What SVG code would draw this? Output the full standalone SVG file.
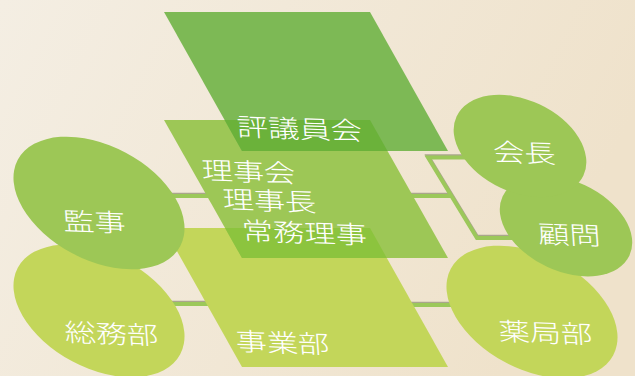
<svg xmlns="http://www.w3.org/2000/svg" width="635" height="376" viewBox="0 0 635 376">
  <defs>
    <linearGradient id="bg" x1="0" y1="0" x2="1" y2="0.3">
      <stop offset="0" stop-color="#f4eee3"/>
      <stop offset="1" stop-color="#efe2cb"/>
    </linearGradient>
    <clipPath id="clipMid"><polygon points="164,120 370,120 448,258 242,258"/></clipPath>
    <clipPath id="clipBot"><polygon points="164,228 370,228 448,367 242,367"/></clipPath>
    <clipPath id="clipSomu"><ellipse cx="0" cy="0" rx="92" ry="57" transform="translate(99,311) rotate(28)"/></clipPath>
    <clipPath id="clipKomon"><ellipse cx="0" cy="0" rx="70" ry="45" transform="translate(566,226) rotate(25)"/></clipPath>
    <clipPath id="clipYakkyoku"><ellipse cx="0" cy="0" rx="92" ry="57" transform="translate(532,312) rotate(28)"/></clipPath>
    <style>
      .lbl { font-family: "Noto Sans CJK JP", "Noto Sans CJK SC", sans-serif; font-size: 25px; font-weight: 300; fill: #ffffff; text-anchor: middle; }
      .conn { fill: none; stroke: #9cc85a; stroke-width: 4; }
      .shadow { fill: none; stroke: #aaa68c; stroke-width: 4; }
      .g1 { fill: #7db955; }
      .g2 { fill: #9dc756; }
      .g3 { fill: #c3d65a; }
      .ov1 { fill: #6bb23a; }
      .ov2 { fill: #8cc43e; }
      .ov3 { fill: #88c03c; }
    </style>
  </defs>

  <rect x="0" y="0" width="635" height="376" fill="url(#bg)"/>

  <g id="connectors">
    <g transform="translate(0,-1.2)">
      <path class="shadow" d="M150,196 H232"/>
      <path class="shadow" d="M150,304 H232"/>
      <path class="shadow" d="M400,196 H452"/>
      <path class="shadow" d="M400,305 H460"/>
      <path class="shadow" d="M474,157.5 H428 L477,238 H515"/>
    </g>
    <path class="conn" d="M150,196 H232"/>
    <path class="conn" d="M150,304 H232"/>
    <path class="conn" d="M400,196 H452"/>
    <path class="conn" d="M400,305 H460"/>
    <path class="conn" d="M474,157.5 H428 L477,238 H515"/>
  </g>

  <g id="jigyobu">
    <polygon class="g3" points="164,228 370,228 448,367 242,367"/>
    <text class="lbl" transform="translate(283,352) rotate(2) skewX(6) scale(1.25,1)">事業部</text>
  </g>

  <g id="rijikai">
    <polygon class="g2" points="164,120 370,120 448,258 242,258"/>
    <polygon class="ov2" points="164,120 370,120 448,258 242,258" clip-path="url(#clipBot)"/>
    <text class="lbl" transform="translate(249,181) rotate(2) skewX(6) scale(1.25,1)">理事会</text>
    <text class="lbl" transform="translate(270,210) rotate(2) skewX(6) scale(1.25,1)">理事長</text>
    <text class="lbl" transform="translate(305,242) rotate(2) skewX(6) scale(1.25,1)">常務理事</text>
  </g>

  <g id="hyogiinkai">
    <polygon class="g1" points="164,12 370,12 448,151 242,151"/>
    <polygon class="ov1" points="164,12 370,12 448,151 242,151" clip-path="url(#clipMid)"/>
    <text class="lbl" transform="translate(300,138) rotate(2) skewX(6) scale(1.25,1)">評議員会</text>
  </g>

  <g id="somubu">
    <ellipse class="g3" cx="0" cy="0" rx="92" ry="57" transform="translate(99,311) rotate(28)"/>
    <text class="lbl" transform="translate(112,343) rotate(2) skewX(6) scale(1.25,1)">総務部</text>
  </g>

  <g id="kanji">
    <ellipse class="g2" cx="0" cy="0" rx="92" ry="57" transform="translate(99,203) rotate(28)"/>
    <ellipse class="ov3" cx="0" cy="0" rx="92" ry="57" transform="translate(99,203) rotate(28)" clip-path="url(#clipSomu)"/>
    <ellipse class="ov2" cx="0" cy="0" rx="92" ry="57" transform="translate(99,203) rotate(28)" clip-path="url(#clipBot)"/>
    <text class="lbl" transform="translate(95,231) rotate(2) skewX(6) scale(1.25,1)">監事</text>
  </g>

  <g id="yakkyokubu">
    <ellipse class="g3" cx="0" cy="0" rx="92" ry="57" transform="translate(532,312) rotate(28)"/>
    <text class="lbl" transform="translate(546,342) rotate(2) skewX(6) scale(1.25,1)">薬局部</text>
  </g>

  <g id="komon">
    <ellipse class="g2" cx="0" cy="0" rx="70" ry="45" transform="translate(566,226) rotate(25)"/>
    <ellipse class="ov2" cx="0" cy="0" rx="70" ry="45" transform="translate(566,226) rotate(25)" clip-path="url(#clipYakkyoku)"/>
    <text class="lbl" transform="translate(570,244) rotate(2) skewX(6) scale(1.25,1)">顧問</text>
  </g>

  <g id="kaicho">
    <ellipse class="g2" cx="0" cy="0" rx="70" ry="46" transform="translate(520,146) rotate(25)"/>
    <ellipse class="ov3" cx="0" cy="0" rx="70" ry="46" transform="translate(520,146) rotate(25)" clip-path="url(#clipKomon)"/>
    <text class="lbl" transform="translate(525,162) rotate(2) skewX(6) scale(1.25,1)">会長</text>
  </g>
</svg>
